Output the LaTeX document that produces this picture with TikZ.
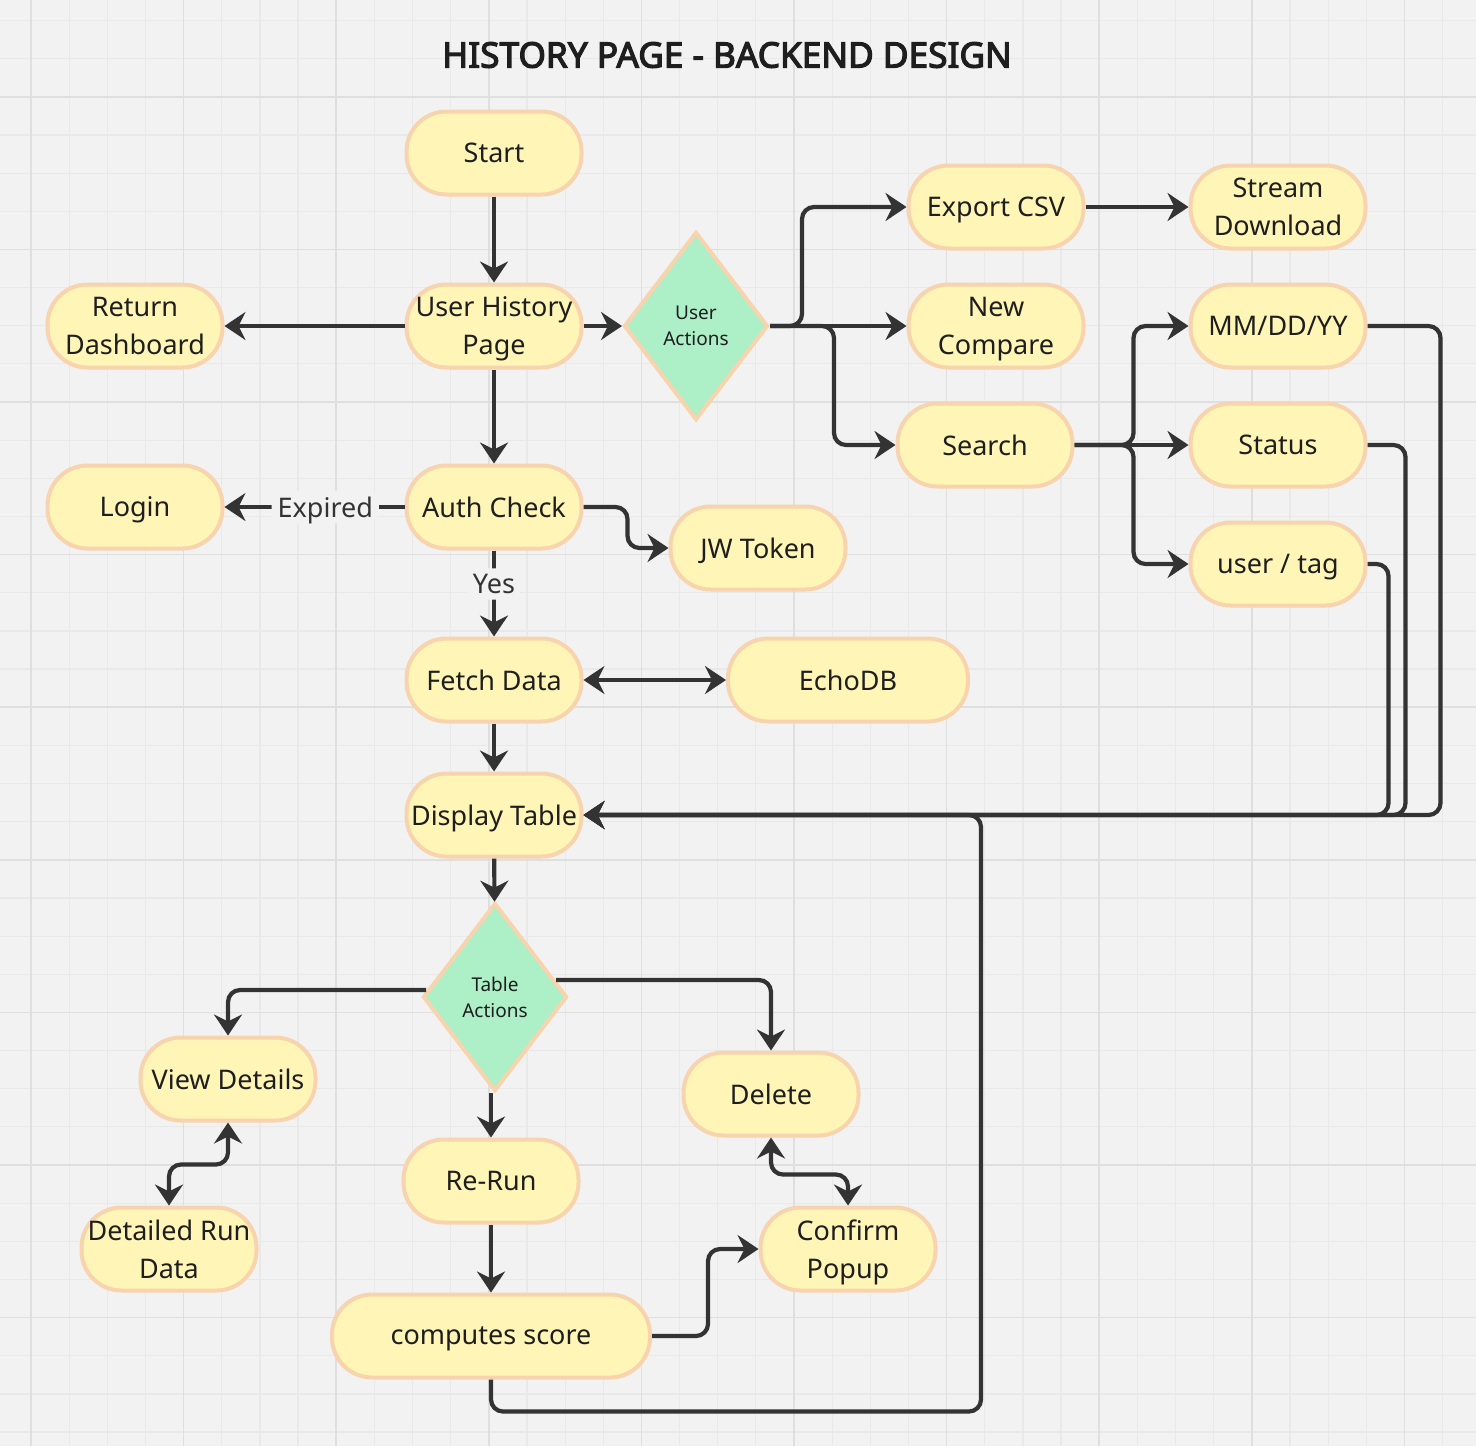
\documentclass[tikz,border=0pt]{standalone}
\usepackage{fontspec}
\setmainfont{Noto Sans}
\newfontfamily\titlefont{Noto Sans}[FakeBold=3.4]
\usetikzlibrary{arrows.meta,calc,shapes.geometric}
\definecolor{paper}{HTML}{F2F2F2}
\definecolor{gridminor}{HTML}{E9E9E9}
\definecolor{gridmajor}{HTML}{DFDFDF}
\definecolor{boxfill}{HTML}{FFF5B6}
\definecolor{boxline}{HTML}{F7D3AE}
\definecolor{decfill}{HTML}{ADEFC7}
\definecolor{wire}{HTML}{333333}
\definecolor{ink}{HTML}{1E1E1E}
\tikzset{
  proc/.style={rectangle,rounded corners=20pt,fill=boxfill,draw=boxline,line width=2pt,
    minimum width=87.5pt,minimum height=41.5pt,inner sep=1pt,align=center,text=ink,
    text depth=0pt,font=\fontsize{13.5}{19}\selectfont},
  decision/.style={diamond,fill=decfill,draw=boxline,line width=2pt,minimum width=72pt,
    minimum height=94pt,inner sep=0pt,align=center,text=ink,font=\fontsize{9.5}{13}\selectfont},
  flow/.style={draw=wire,line width=2.1pt,rounded corners=6pt,->},
  both/.style={flow,<->},
  lbl/.style={fill=paper,inner sep=3pt,text depth=0pt,text=wire,font=\fontsize{13.5}{16}\selectfont}
}
\begin{document}
\begin{tikzpicture}[x=.5pt,y=-.5pt,>={Stealth[length=10.5pt,width=14pt,inset=3.5pt]}]
\useasboundingbox (0,0) rectangle (1476,1446);
\fill[paper] (0,0) rectangle (1476,1446);
\begin{scope}
\clip (0,0) rectangle (1476,1446);
\foreach \k in {0,...,37}{
 \draw[gridminor,line width=.6pt] (31+38.15*\k,0)--++(0,1446);
 \draw[gridminor,line width=.6pt] (0,20.5+38.15*\k)--++(1476,0);
}
\foreach \k in {0,...,9}{
 \draw[gridmajor,line width=.8pt] (31+152.6*\k,0)--++(0,1446);
 \draw[gridmajor,line width=.8pt] (0,96.8+152.6*\k)--++(1476,0);
}
\end{scope}
\node[text=ink,font=\fontsize{17.6}{22}\titlefont] (title) at (727,55) {HISTORY PAGE - BACKEND DESIGN};
\node[proc] (start) at (494,153) {Start};
\node[proc] (history) at (494,326) {User History\\Page};
\node[proc] (dash) at (135,326) {Return\\Dashboard};
\node[decision] (useract) at (696,326) {User\\Actions};
\node[proc] (export) at (996,207) {Export CSV};
\node[proc] (stream) at (1278,207) {Stream\\Download};
\node[proc] (newcmp) at (996,326) {New\\Compare};
\node[proc] (search) at (985,445) {Search};
\node[proc] (date) at (1278,326) {MM/DD/YY};
\node[proc] (status) at (1278,445) {Status};
\node[proc] (usertag) at (1278,564) {user / tag};
\node[proc] (auth) at (494,507) {Auth Check};
\node[proc] (login) at (135,507) {Login};
\node[proc] (token) at (758,548) {JW Token};
\node[proc] (fetch) at (494,680) {Fetch Data};
\node[proc,minimum width=120pt] (echodb) at (848,680) {EchoDB};
\node[proc] (display) at (494,815) {Display Table};
\node[decision] (tblact) at (495,997) {Table\\Actions};
\node[proc] (view) at (228,1079) {View Details};
\node[proc] (delete) at (771,1094) {Delete};
\node[proc] (rerun) at (491,1181) {Re-Run};
\node[proc] (detail) at (169,1249) {Detailed Run\\Data};
\node[proc] (confirm) at (848,1249) {Confirm\\Popup};
\node[proc,minimum width=159pt] (score) at (491,1336) {computes score};
\coordinate (merge) at (981,815);
\draw[flow] (start) -- (history);
\draw[flow] (history) -- (dash);
\draw[flow] (history) -- (useract);
\draw[flow] (useract.east) -- ++(32,0) |- (export.west);
\draw[flow] (useract.east) -- (newcmp.west);
\draw[flow] (useract.east) -- ++(64,0) |- (search.west);
\draw[flow] (export) -- (stream);
\draw[flow] (search.east) -- ++(59,0) |- (date.west);
\draw[flow] (search.east) -- (status.west);
\draw[flow] (search.east) -- ++(59,0) |- (usertag.west);
\draw[flow] (date.east) -- ++(73,0) |- (display.east);
\draw[flow] (status.east) -- ++(38,0) |- (display.east);
\draw[flow] (usertag.east) -- ++(21,0) |- (display.east);
\draw[flow] (history) -- (auth);
\draw[flow] (auth.west) -- node[lbl,pos=.44] {Expired} (login.east);
\draw[flow] (auth.east) -- ++(44,0) |- (token.west);
\draw[flow] (auth.south) -- node[lbl,pos=.39] {Yes} (fetch.north);
\draw[both] (fetch.east) -- (echodb.west);
\draw[flow] (fetch) -- (display);
\draw[flow] (display) -- (tblact);
\draw[flow] ($(tblact.west)+(5,-7)$) -| (view.north);
\draw[flow] ($(tblact.east)+(-13,-17)$) -| (delete.north);
\draw[flow] (tblact.south -| rerun.north) -- (rerun.north);
\draw[both] (view.south) -- ++(0,42) -| (detail.north);
\draw[both] (delete.south) -- ++(0,37) -| (confirm.north);
\draw[flow] (rerun) -- (score);
\draw[flow] (score.east) -- ++(56,0) |- (confirm.west);
\draw[flow] (score.south) -- ++(0,32) -| (merge) -- (display.east);
\end{tikzpicture}
\end{document}
